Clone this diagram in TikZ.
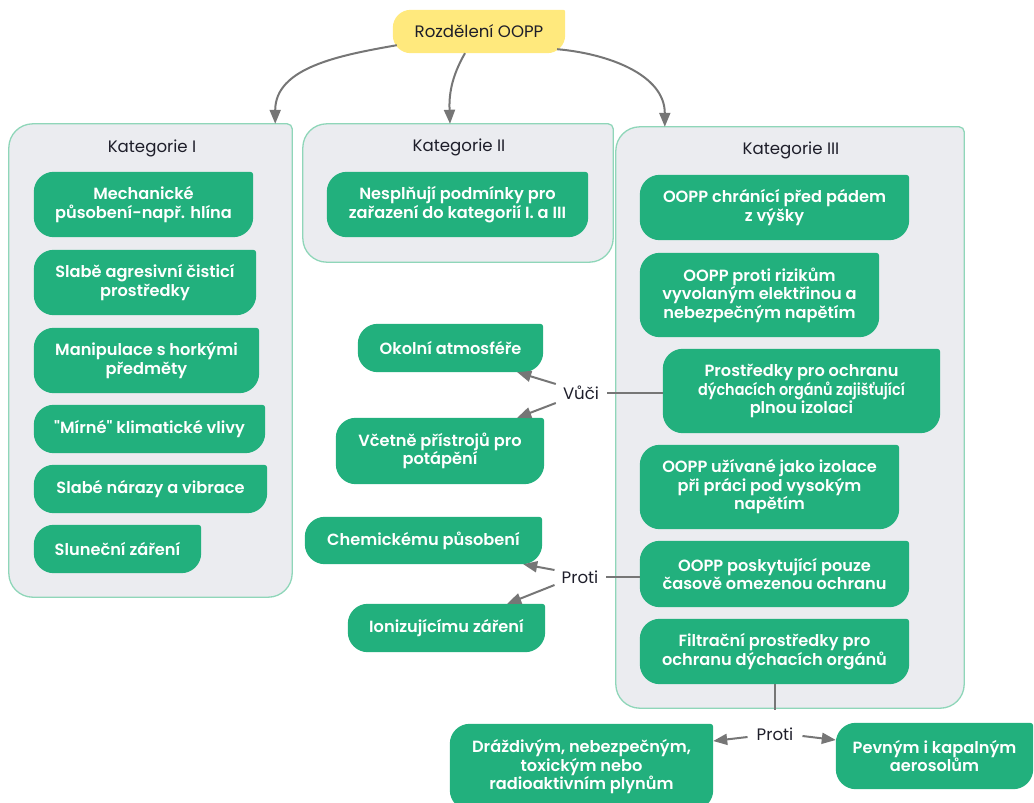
\documentclass[tikz,border=0pt]{standalone}
\usepackage{fontspec}
\usepackage{graphicx}
\setmainfont{Poppins}
\newfontfamily\medfont{Poppins SemiBold}
\usetikzlibrary{arrows.meta,backgrounds}

\definecolor{leaf}{HTML}{22B07D}
\definecolor{panel}{HTML}{EBECF0}
\definecolor{panelline}{HTML}{8FD6B9}
\definecolor{sun}{HTML}{FFE97D}
\definecolor{wire}{HTML}{767676}
\definecolor{ink}{HTML}{1E1E2A}

% Box with three large rounded corners and a nearly square top-right corner.
% #1 node name, #2 path options, #3 large radius, #4 small radius
\newcommand\leafpath[4]{%
  \path[#2] ([xshift=#3]#1.north west) -- ([xshift=-#4]#1.north east)
    arc[start angle=90,end angle=0,radius=#4]
    -- ([yshift=#3]#1.south east)
    arc[start angle=0,end angle=-90,radius=#3]
    -- ([xshift=#3]#1.south west)
    arc[start angle=270,end angle=180,radius=#3]
    -- ([yshift=-#3]#1.north west)
    arc[start angle=180,end angle=90,radius=#3] -- cycle;}

% Node spanning the box (x1,y1)-(x2,y2), y measured downwards
\newcommand\placebox[7][]{%
  \node[#1, minimum width={(#5-#3)*1pt}, minimum height={(#6-#4)*1pt}]
    (#2) at ({(#3+#5)/2},{(#4+#6)/2}) {#7};}

\tikzset{
  item/.style={inner sep=0pt, align=center, text=white,
    font=\medfont\fontsize{16.2}{18.5}\selectfont},
  hold/.style={inner sep=0pt},
  title/.style={inner sep=0pt, text=ink, font=\fontsize{16.6}{19}\selectfont},
  link/.style={draw=wire, line width=2pt},
  arr/.style={link, -{Triangle[length=14pt,width=11pt]}},
}

\begin{document}
\begin{tikzpicture}[x=1pt,y=-1pt]
\useasboundingbox (0,0) rectangle (1034,803);

% root
\placebox[title]{root}{393}{10}{565}{53}{Rozdělení OOPP}

% category panels
\placebox[hold]{kat1}{9}{124}{292}{597}{}
\placebox[hold]{kat2}{303}{124}{613}{262}{}
\placebox[hold]{kat3}{616}{127}{964}{708}{}
\node[title] (t1) at (152,148) {Kategorie I};
\node[title] (t2) at (459,147) {Kategorie II};
\node[title] (t3) at (791,150) {Kategorie III};

% Kategorie I
\placebox[item]{k1a}{34}{172}{253}{237}{Mechanické\\působení-např. hlína}
\placebox[item]{k1b}{34}{250}{256}{315}{Slabě agresivní čisticí\\prostředky}
\placebox[item]{k1c}{34}{328}{259}{393}{Manipulace s horkými\\předměty}
\placebox[item]{k1d}{34}{405}{265}{453}{"Mírné" klimatické vlivy}
\placebox[item]{k1e}{34}{465}{267}{513}{Slabé nárazy a vibrace}
\placebox[item]{k1f}{34}{525}{201}{573}{Sluneční záření}

% Kategorie II
\placebox[item]{k2a}{327}{172}{588}{237}{Nesplňují podmínky pro\\zařazení do kategorií I. a III}

% Kategorie III
\placebox[item]{k3a}{640}{175}{909}{240}{OOPP chránící před pádem\\z výšky}
\placebox[item]{k3b}{640}{253}{879}{337}{OOPP proti rizikům\\vyvolaným elektřinou a\\nebezpečným napětím}
\placebox[item]{k3c}{663}{349}{940}{433}{Prostředky pro ochranu\\\scalebox{0.89}[1]{dýchacích orgánů zajišťující}\\plnou izolaci}
\placebox[item]{k3d}{640}{445}{899}{529}{OOPP užívané jako izolace\\při práci pod vysokým\\napětím}
\placebox[item]{k3e}{640}{541}{909}{607}{OOPP poskytující pouze\\časově omezenou ochranu}
\placebox[item]{k3f}{640}{619}{909}{684}{Filtrační prostředky pro\\ochranu dýchacích orgánů}

% detail nodes
\placebox[item]{okoli}{358}{324}{543}{372}{Okolní atmosféře}
\placebox[item]{potap}{336}{418}{544}{484}{Včetně přístrojů pro\\potápění}
\placebox[item]{chem}{305}{517}{542}{564}{Chemickému působení}
\placebox[item]{ioniz}{348}{604}{545}{652}{Ionizujícímu záření}
\placebox[item]{plyn}{450}{724}{713}{810}{Dráždivým, nebezpečným,\\toxickým nebo\\radioaktivním plynům}
\placebox[item]{aeros}{836}{723}{1033}{789}{Pevným i kapalným\\aerosolům}

% connector labels
\node[title] (vuci) at (581,393) {Vůči};
\node[title] (proti1) at (580,577) {Proti};
\node[title] (proti2) at (775,734) {Proti};

% shapes behind the texts
\begin{scope}[on background layer]
  \foreach \n in {kat1,kat2,kat3}
    \leafpath{\n}{fill=panel,draw=panelline,line width=1.3pt}{24pt}{5pt};
  \leafpath{root}{fill=sun}{18pt}{2pt}
  \foreach \n in {k1a,k1b,k1c,k1d,k1e,k1f,k2a,k3a,k3b,k3c,k3d,k3e,k3f,
                  okoli,potap,chem,ioniz,plyn,aeros}
    \leafpath{\n}{fill=leaf}{20pt}{3pt};
\end{scope}

% root to categories
\draw[arr] ([xshift=4pt,yshift=8pt]root.south west)
  to[out=190,in=90] ([xshift=-17pt]kat1.north east);
\draw[arr] ([xshift=-14pt]root.south)
  to[out=240,in=92] ([xshift=-8pt]kat2.north);
\draw[arr] ([xshift=-8pt,yshift=4pt]root.south east)
  to[out=-5,in=90] ([xshift=49pt]kat3.north west);

% Vůči
\draw[link] (k3c.west |- vuci) -- ([xshift=8pt]vuci.east);
\draw[arr] ([xshift=-7pt,yshift=9pt]vuci.west) -- ([xshift=-26pt]okoli.south east);
\draw[arr] ([xshift=-7pt,yshift=-10pt]vuci.west) -- ([xshift=-27pt]potap.north east);

% Proti (časově omezená ochrana)
\draw[link] (k3e.west |- proti1) -- ([xshift=8pt]proti1.east);
\draw[arr] ([xshift=-7pt,yshift=7pt]proti1.west) -- ([xshift=-19pt]chem.south east);
\draw[arr] ([xshift=-7pt,yshift=-8pt]proti1.west) -- ([xshift=-38pt]ioniz.north east);

% Proti (filtrační prostředky)
\draw[link] (k3f.south) -- ([yshift=-2pt]k3f.south |- kat3.south);
\draw[arr] ([xshift=-9pt,yshift=-3pt]proti2.west) -- ([yshift=26pt]plyn.east);
\draw[arr] ([xshift=9pt,yshift=-2pt]proti2.east) -- ([yshift=16pt]aeros.west);
\end{tikzpicture}
\end{document}
